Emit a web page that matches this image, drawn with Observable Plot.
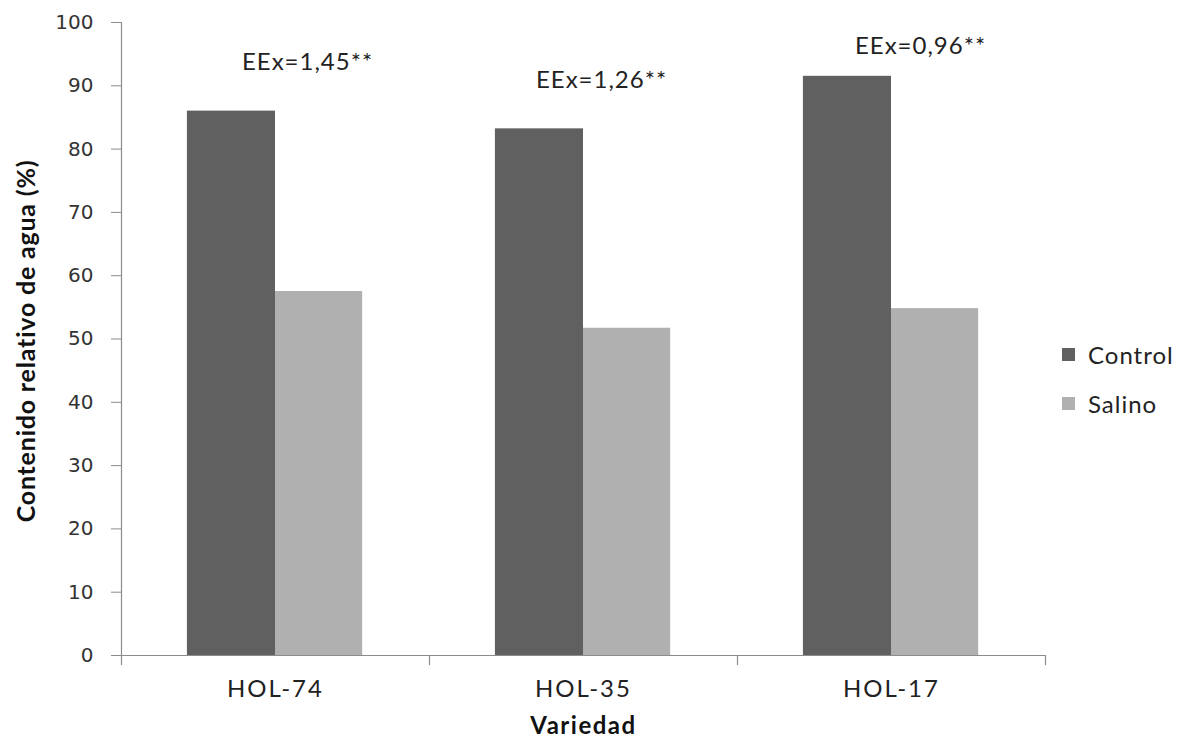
<!DOCTYPE html>
<html>
<head>
<meta charset="utf-8">
<script src="https://cdn.jsdelivr.net/npm/d3@7"></script>
<script src="https://cdn.jsdelivr.net/npm/@observablehq/plot@0.6"></script>
<style>
  html, body { margin: 0; padding: 0; background: #fff; }
  #wrap { position: relative; width: 1178px; height: 742px; }
  #legend { position: absolute; left: 1062px; top: 339px; font-family: Lato, "Open Sans", sans-serif; font-size: 24px; letter-spacing: 1px; color: #222; }
  #legend .item { display: flex; align-items: center; height: 30px; margin-bottom: 19px; }
  #legend .sw { width: 13px; height: 13px; margin-right: 13px; }
  g[aria-label="x-axis tick label"] text { letter-spacing: 2px; }
  g.ann text { letter-spacing: 1px; }
  g.ylab text { letter-spacing: 0.8px; }
  g.xlab text { letter-spacing: 1.5px; }
</style>
</head>
<body>
<div id="wrap"><div id="legend"></div></div>
<script>
// ---- data ----
const variedades = ["HOL-74", "HOL-35", "HOL-17"];
const series = ["Control", "Salino"];
const control = [86.0, 83.2, 91.5];
const salino = [57.5, 51.7, 54.8];
const etiquetas = ["EEx=1,45**", "EEx=1,26**", "EEx=0,96**"];
const etiquetaY = [93.7, 90.9, 96.3];
const yTicks = [0, 10, 20, 30, 40, 50, 60, 70, 80, 90, 100];
const colores = ["#606060", "#b0b0b0"];

// ---- layout ----
const W = 1178, H = 742, mL = 121, mR = 133, mT = 22, mB = 87;
const band = (W - mL - mR) / variedades.length;
const half = band / 2;
const annDx = [32, 18, 29];

const rows = [];
variedades.forEach((v, i) => {
  rows.push({variedad: v, serie: series[0], valor: control[i]});
  rows.push({variedad: v, serie: series[1], valor: salino[i]});
});
const ann = variedades.map((v, i) => ({variedad: v, texto: etiquetas[i], y: etiquetaY[i]}));
const font = "Lato, 'Open Sans', sans-serif";

const chart = Plot.plot({
  width: W, height: H,
  marginLeft: mL, marginRight: mR, marginTop: mT, marginBottom: mB,
  style: {background: "transparent"},
  x: {type: "band", domain: variedades, padding: 0, axis: null},
  y: {domain: [0, 100], axis: null},
  color: {domain: series, range: colores},
  marks: [
    Plot.barY(rows.filter(d => d.serie === "Control"), {x: "variedad", y: "valor", fill: "serie", insetLeft: band * 0.214, insetRight: band * 0.5}),
    Plot.barY(rows.filter(d => d.serie === "Salino"), {x: "variedad", y: "valor", fill: "serie", insetLeft: band * 0.5, insetRight: band * 0.217}),
    Plot.ruleY([0], {stroke: "#8c8c8c", strokeWidth: 1.2}),
    Plot.ruleX([variedades[0]], {dx: -half, stroke: "#8c8c8c", strokeWidth: 1.2}),
    Plot.ruleX(variedades, {dx: -half, y1: 0, y2: -1.6, stroke: "#8c8c8c", strokeWidth: 1.2}),
    Plot.ruleX([variedades[variedades.length - 1]], {dx: half, y1: 0, y2: -1.6, stroke: "#8c8c8c", strokeWidth: 1.2}),
    Plot.axisY({ticks: yTicks, tickSize: 10, tickPadding: 18, stroke: "#8c8c8c", fill: "#333", fontSize: 20, fontFamily: "DejaVu Sans", label: null, tickFormat: d => String(d)}),
    Plot.axisX({tickSize: 0, tickPadding: 24, fill: "#222", fontSize: 24, fontFamily: font, label: null}),
    ...ann.map((a, i) => Plot.text([a], {x: "variedad", y: "y", text: "texto", dx: annDx[i], fontSize: 24, fontFamily: font, fill: "#222", className: "ann"})),
    Plot.text(["Contenido relativo de agua (%)"], {frameAnchor: "left", textAnchor: "middle", lineAnchor: "middle", rotate: -90, dx: -95, dy: 2, fontSize: 25, fontWeight: "bold", fontFamily: font, fill: "#111", className: "ylab"}),
    Plot.text(["Variedad"], {frameAnchor: "bottom", dy: 78, fontSize: 24, fontWeight: "bold", fontFamily: font, fill: "#111", className: "xlab"})
  ]
});
document.getElementById("wrap").prepend(chart);

const lg = document.getElementById("legend");
series.forEach((s, i) => {
  const it = document.createElement("div");
  it.className = "item";
  it.innerHTML = `<div class="sw" style="background:${colores[i]}"></div><span>${s}</span>`;
  lg.appendChild(it);
});
</script>
</body>
</html>
